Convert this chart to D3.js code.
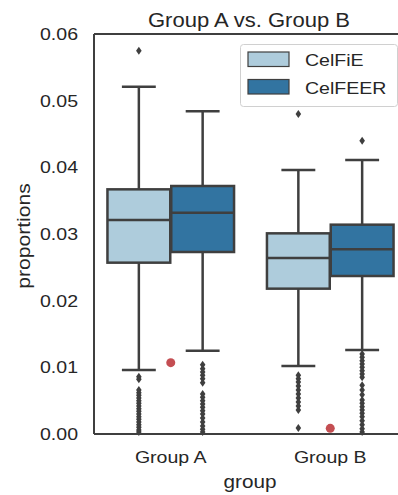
<!DOCTYPE html>
<html>
<head>
<meta charset="utf-8">
<script src="https://cdn.jsdelivr.net/npm/d3@7.9.0/dist/d3.min.js"></script>
<style>
  body { margin: 0; background: #fff; }
  svg { font-family: "Liberation Sans", Arial, sans-serif; }
</style>
</head>
<body>
<svg id="chart" width="398" height="495"></svg>
<script>
const groups = ["Group A", "Group B"];
const methods = ["CelFiE", "CelFEER"];
const yTicks = [0, 0.01, 0.02, 0.03, 0.04, 0.05, 0.06];

// box stats per method, in group order
const whiskerLow = { CelFiE: [0.0096, 0.0102], CelFEER: [0.0125, 0.0126] };
const q1 = { CelFiE: [0.0257, 0.0218], CelFEER: [0.0273, 0.0237] };
const median = { CelFiE: [0.0321, 0.0264], CelFEER: [0.0332, 0.0277] };
const q3 = { CelFiE: [0.0367, 0.0301], CelFEER: [0.0372, 0.0314] };
const whiskerHigh = { CelFiE: [0.0521, 0.0396], CelFEER: [0.0484, 0.0411] };

const outliersA_CelFiE = [0.0575, 0.0086, 0.0082, 0.0066, 0.0062, 0.0058, 0.0054, 0.0050, 0.0046, 0.0042,
  0.0038, 0.0034, 0.0030, 0.0026, 0.0022, 0.0018, 0.0014, 0.0010, 0.0006, 0.0003];
const outliersA_CelFEER = [0.0104, 0.0098, 0.0093, 0.0088, 0.0083, 0.0077, 0.0060, 0.0055, 0.0050,
  0.0045, 0.0040, 0.0035, 0.0030, 0.0024, 0.0018, 0.0012, 0.0007, 0.0003];
const outliersB_CelFiE = [0.0480, 0.0088, 0.0083, 0.0078, 0.0072, 0.0066, 0.0060, 0.0054, 0.0048,
  0.0042, 0.0036, 0.0009];
const outliersB_CelFEER = [0.0440, 0.0120, 0.0115, 0.0110, 0.0105, 0.0100, 0.0095, 0.0090, 0.0085,
  0.0073, 0.0066, 0.0059, 0.0051, 0.0046, 0.0041, 0.0036, 0.0031, 0.0026, 0.0020, 0.0014, 0.0008, 0.0003];
const outliers = {
  CelFiE: [outliersA_CelFiE, outliersB_CelFiE],
  CelFEER: [outliersA_CelFEER, outliersB_CelFEER]
};

// red reference points, one per group
const truth = [0.0107, 0.00085];

const colors = { CelFiE: "#aeccdc", CelFEER: "#3274a1" };
const edge = "#3f3f3f";
const ink = "#262626";

const svg = d3.select("#chart");
const area = { left: 94, right: 404, top: 34, bottom: 434 };

const y = d3.scaleLinear().domain([0, 0.06]).range([area.bottom, area.top]);
const x = d3.scaleBand().domain(groups).range([91, 410]);
const xHue = d3.scaleBand().domain(methods)
  .range([x.bandwidth() * 0.1, x.bandwidth() * 0.9]);

// text in the reference runs wider than Liberation Sans, so stretch a bit
function label(sel, tx, ty, size, anchor, rot = 0, sx = 1.15) {
  return sel.append("text")
    .attr("transform", `translate(${tx},${ty}) rotate(${rot}) scale(${sx},1)`)
    .attr("text-anchor", anchor)
    .attr("font-size", size)
    .attr("fill", ink);
}

// boxes
methods.forEach(m => {
  groups.forEach((g, i) => {
    const x0 = x(g) + xHue(m);
    const w = xHue.bandwidth();
    const cx = x0 + w / 2;
    const grp = svg.append("g");

    grp.append("line")
      .attr("x1", cx).attr("x2", cx)
      .attr("y1", y(whiskerLow[m][i])).attr("y2", y(q1[m][i]))
      .attr("stroke", edge).attr("stroke-width", 2.5);
    grp.append("line")
      .attr("x1", cx).attr("x2", cx)
      .attr("y1", y(q3[m][i])).attr("y2", y(whiskerHigh[m][i]))
      .attr("stroke", edge).attr("stroke-width", 2.5);
    [whiskerLow[m][i], whiskerHigh[m][i]].forEach(v => {
      grp.append("line")
        .attr("x1", cx - w / 4 - 1).attr("x2", cx + w / 4 + 1)
        .attr("y1", y(v)).attr("y2", y(v))
        .attr("stroke", edge).attr("stroke-width", 2.5);
    });

    grp.append("rect")
      .attr("x", x0 + 0.5).attr("width", w - 1)
      .attr("y", y(q3[m][i]))
      .attr("height", y(q1[m][i]) - y(q3[m][i]))
      .attr("fill", colors[m])
      .attr("stroke", edge).attr("stroke-width", 2.5);
    grp.append("line")
      .attr("x1", x0 + 0.5).attr("x2", x0 + w - 0.5)
      .attr("y1", y(median[m][i])).attr("y2", y(median[m][i]))
      .attr("stroke", edge).attr("stroke-width", 2.5);

    grp.selectAll(".flier")
      .data(outliers[m][i])
      .join("path")
      .attr("class", "flier")
      .attr("d", "M0,-4L2.8,0L0,4L-2.8,0Z")
      .attr("transform", d => `translate(${cx},${y(d)})`)
      .attr("fill", edge);
  });
});

// red points
svg.selectAll(".truth")
  .data(truth)
  .join("circle")
  .attr("class", "truth")
  .attr("cx", (d, i) => x(groups[i]) + x.bandwidth() / 2)
  .attr("cy", d => y(d))
  .attr("r", 4.5)
  .attr("fill", "#c44e52");

// frame
svg.append("line")
  .attr("x1", area.left).attr("x2", area.left)
  .attr("y1", area.top).attr("y2", area.bottom)
  .attr("stroke", edge).attr("stroke-width", 2);
svg.append("line")
  .attr("x1", area.left).attr("x2", 398)
  .attr("y1", area.bottom).attr("y2", area.bottom)
  .attr("stroke", edge).attr("stroke-width", 2);
svg.append("line")
  .attr("x1", area.left).attr("x2", 398)
  .attr("y1", area.top).attr("y2", area.top)
  .attr("stroke", edge).attr("stroke-width", 2);

// y tick labels
yTicks.forEach(t => {
  label(svg, 78, y(t), 17, "end")
    .attr("dy", "0.36em")
    .text(d3.format(".2f")(t));
});

// x tick labels
groups.forEach(g => {
  label(svg, x(g) + x.bandwidth() / 2, 463, 17, "middle").text(g);
});

label(svg, 250, 488, 18, "middle").text("group");
label(svg, 30, 236, 18, "middle", -90, 1.17).text("proportions");
label(svg, 249, 27, 19.5, "middle", 0, 1.13).text("Group A vs. Group B");

// legend
const legend = svg.append("g");
legend.append("rect")
  .attr("x", 240.5).attr("y", 44.5)
  .attr("width", 157).attr("height", 62)
  .attr("rx", 3)
  .attr("fill", "#fff").attr("fill-opacity", 0.8)
  .attr("stroke", "#d0d0d0");
methods.forEach((m, i) => {
  legend.append("rect")
    .attr("x", 248).attr("y", 52 + i * 27.5)
    .attr("width", 41).attr("height", 14.5)
    .attr("fill", colors[m])
    .attr("stroke", edge).attr("stroke-width", 1.2);
  label(legend, 305, 60 + i * 28, 17, "start")
    .attr("dy", "0.36em")
    .text(m);
});
</script>
</body>
</html>
